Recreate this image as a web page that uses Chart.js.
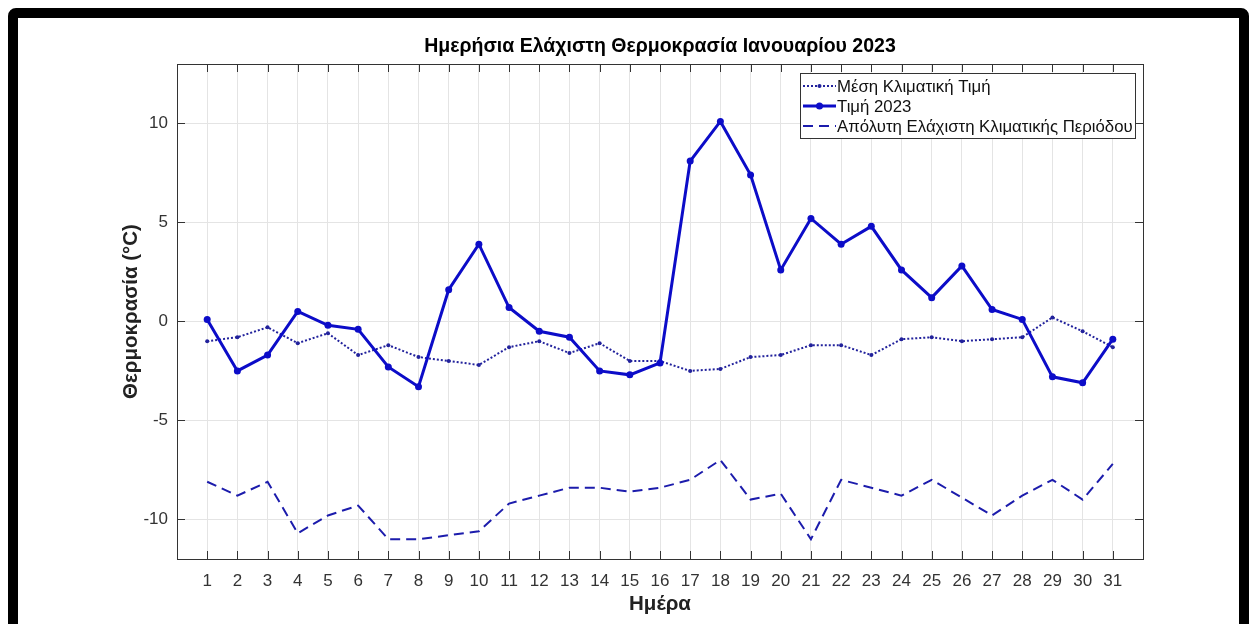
<!DOCTYPE html>
<html>
<head>
<meta charset="utf-8">
<script src="https://cdn.jsdelivr.net/npm/chart.js@4.4.0/dist/chart.umd.min.js"></script>
<style>
html, body { margin: 0; padding: 0; background: #fff; }
#wrap { position: relative; width: 1257px; height: 624px; overflow: hidden; }
#frame { position: absolute; left: 8px; top: 8px; width: 1221px; height: 700px; border: 10px solid #000; border-radius: 8px; }
canvas { position: absolute; left: 0; top: 0; }
</style>
</head>
<body>
<div id="wrap">
    <canvas id="myChart" width="1257" height="624"></canvas>
    <div id="frame"></div>
</div>
<script>
const days = [1, 2, 3, 4, 5, 6, 7, 8, 9, 10, 11, 12, 13, 14, 15, 16, 17, 18, 19, 20, 21, 22, 23, 24, 25, 26, 27, 28, 29, 30, 31];
const meanValues = [-1.0, -0.8, -0.3, -1.1, -0.6, -1.7, -1.2, -1.8, -2.0, -2.2, -1.3, -1.0, -1.6, -1.1, -2.0, -2.0, -2.5, -2.4, -1.8, -1.7, -1.2, -1.2, -1.7, -0.9, -0.8, -1.0, -0.9, -0.8, 0.2, -0.5, -1.3];
const values2023 = [0.1, -2.5, -1.7, 0.5, -0.2, -0.4, -2.3, -3.3, 1.6, 3.9, 0.7, -0.5, -0.8, -2.5, -2.7, -2.1, 8.1, 10.1, 7.4, 2.6, 5.2, 3.9, 4.8, 2.6, 1.2, 2.8, 0.6, 0.1, -2.8, -3.1, -0.9];
const absMinValues = [-8.1, -8.8, -8.1, -10.7, -9.8, -9.3, -11.0, -11.0, -10.8, -10.6, -9.2, -8.8, -8.4, -8.4, -8.6, -8.4, -8.0, -7.0, -9.0, -8.7, -11.0, -8.0, -8.4, -8.8, -8.0, -8.9, -9.8, -8.8, -8.0, -9.0, -7.2];
const yTicks = [-10, -5, 0, 5, 10];
const seriesNames = ['Μέση Κλιματική Τιμή', 'Τιμή 2023', 'Απόλυτη Ελάχιστη Κλιματικής Περιόδου'];

const fontFamily = '"Liberation Sans", Arial, Helvetica, sans-serif';
const axisColor = '#333333';

function toPoints(arr) {
    return days.map((d, i) => ({ x: d, y: arr[i] }));
}

// box + inward tick marks like the original axes
const boxPlugin = {
    id: 'boxPlugin',
    afterDatasetsDraw(chart) {
        const { ctx, chartArea: a, scales } = chart;
        ctx.save();
        ctx.strokeStyle = axisColor;
        ctx.lineWidth = 1;
        ctx.beginPath();
        days.forEach(d => {
            const px = Math.round(scales.x.getPixelForValue(d)) + 0.5;
            ctx.moveTo(px, a.bottom);
            ctx.lineTo(px, a.bottom - 8);
            ctx.moveTo(px, a.top);
            ctx.lineTo(px, a.top + 8);
        });
        yTicks.forEach(v => {
            const py = Math.round(scales.y.getPixelForValue(v)) + 0.5;
            ctx.moveTo(a.left, py);
            ctx.lineTo(a.left + 8, py);
            ctx.moveTo(a.right, py);
            ctx.lineTo(a.right - 8, py);
        });
        ctx.stroke();
        ctx.strokeRect(Math.round(a.left) + 0.5, Math.round(a.top) + 0.5, Math.round(a.right - a.left), Math.round(a.bottom - a.top));
        ctx.restore();
    }
};

// legend drawn like the MATLAB one (line samples with markers)
const legendPlugin = {
    id: 'legendPlugin',
    afterDraw(chart) {
        const { ctx } = chart;
        const bx = 800, by = 73, bw = 335, bh = 65;
        ctx.save();
        ctx.fillStyle = '#fff';
        ctx.fillRect(bx, by, bw, bh);
        ctx.strokeStyle = axisColor;
        ctx.lineWidth = 1;
        ctx.strokeRect(bx + 0.5, by + 0.5, bw, bh);
        ctx.font = '16.8px ' + fontFamily;
        ctx.textBaseline = 'middle';
        chart.data.datasets.forEach((ds, i) => {
            const y = by + 13 + i * 20;
            ctx.strokeStyle = ds.borderColor;
            ctx.lineWidth = ds.borderWidth;
            ctx.setLineDash(ds.borderDash || []);
            ctx.beginPath();
            ctx.moveTo(bx + 3, y);
            ctx.lineTo(bx + 36, y);
            ctx.stroke();
            ctx.setLineDash([]);
            if (ds.pointRadius > 0) {
                ctx.fillStyle = ds.borderColor;
                ctx.beginPath();
                ctx.arc(bx + 19.5, y, ds.pointRadius, 0, Math.PI * 2);
                ctx.fill();
            }
            ctx.fillStyle = '#111';
            ctx.fillText(ds.label, bx + 37, y + 1);
        });
        ctx.restore();
    }
};

const ctx = document.getElementById('myChart');

new Chart(ctx, {
    type: 'line',
    data: {
        datasets: [{
            label: seriesNames[0],
            data: toPoints(meanValues),
            borderColor: '#22229c',
            backgroundColor: '#22229c',
            borderWidth: 2,
            borderDash: [2, 2],
            pointRadius: 2,
            pointBorderWidth: 0,
            order: 1
        }, {
            label: seriesNames[1],
            data: toPoints(values2023),
            borderColor: '#0c0cc8',
            backgroundColor: '#0c0cc8',
            borderWidth: 3,
            pointRadius: 3.5,
            pointBorderWidth: 0,
            order: 0
        }, {
            label: seriesNames[2],
            data: toPoints(absMinValues),
            borderColor: '#1c1cac',
            backgroundColor: '#1c1cac',
            borderWidth: 2,
            borderDash: [10, 6],
            pointRadius: 0,
            order: 2
        }]
    },
    options: {
        responsive: false,
        animation: false,
        devicePixelRatio: 1,
        layout: {
            padding: { left: 114, right: 51, top: 0, bottom: 0 }
        },
        scales: {
            x: {
                type: 'linear',
                min: 0,
                max: 32,
                afterBuildTicks: scale => { scale.ticks = days.map(v => ({ value: v })); },
                afterFit: scale => { scale.height = 65; },
                grid: { color: '#e4e4e4', drawTicks: false },
                border: { display: false },
                ticks: {
                    padding: 12,
                    color: axisColor,
                    font: { size: 17, family: fontFamily },
                    maxRotation: 0,
                    autoSkip: false
                },
                title: {
                    display: true,
                    text: 'Ημέρα',
                    color: '#222',
                    font: { size: 20.5, weight: 'bold', family: fontFamily },
                    padding: { top: 0, bottom: 7 }
                }
            },
            y: {
                min: -12,
                max: 13,
                afterBuildTicks: scale => { scale.ticks = yTicks.map(v => ({ value: v })); },
                afterFit: scale => { scale.width = 63; },
                grid: { color: '#e4e4e4', drawTicks: false },
                border: { display: false },
                ticks: {
                    padding: 9,
                    color: axisColor,
                    font: { size: 17, family: fontFamily }
                },
                title: {
                    display: true,
                    text: 'Θερμοκρασία (°C)',
                    color: '#222',
                    font: { size: 20.5, weight: 'bold', family: fontFamily },
                    padding: { top: 5, bottom: 0 }
                }
            },
            // empty right axis so the title centres over the plot box
            yRight: {
                position: 'right',
                min: -12,
                max: 13,
                afterFit: scale => { scale.width = 63; },
                grid: { display: false },
                border: { display: false },
                ticks: { display: false }
            }
        },
        plugins: {
            legend: { display: false },
            tooltip: { enabled: false },
            title: {
                display: true,
                text: 'Ημερήσια Ελάχιστη Θερμοκρασία Ιανουαρίου 2023',
                color: '#000',
                font: { size: 19.5, weight: 'bold', family: fontFamily },
                padding: { top: 35, bottom: 5.6 }
            }
        }
    },
    plugins: [boxPlugin, legendPlugin]
});
</script>
</body>
</html>
